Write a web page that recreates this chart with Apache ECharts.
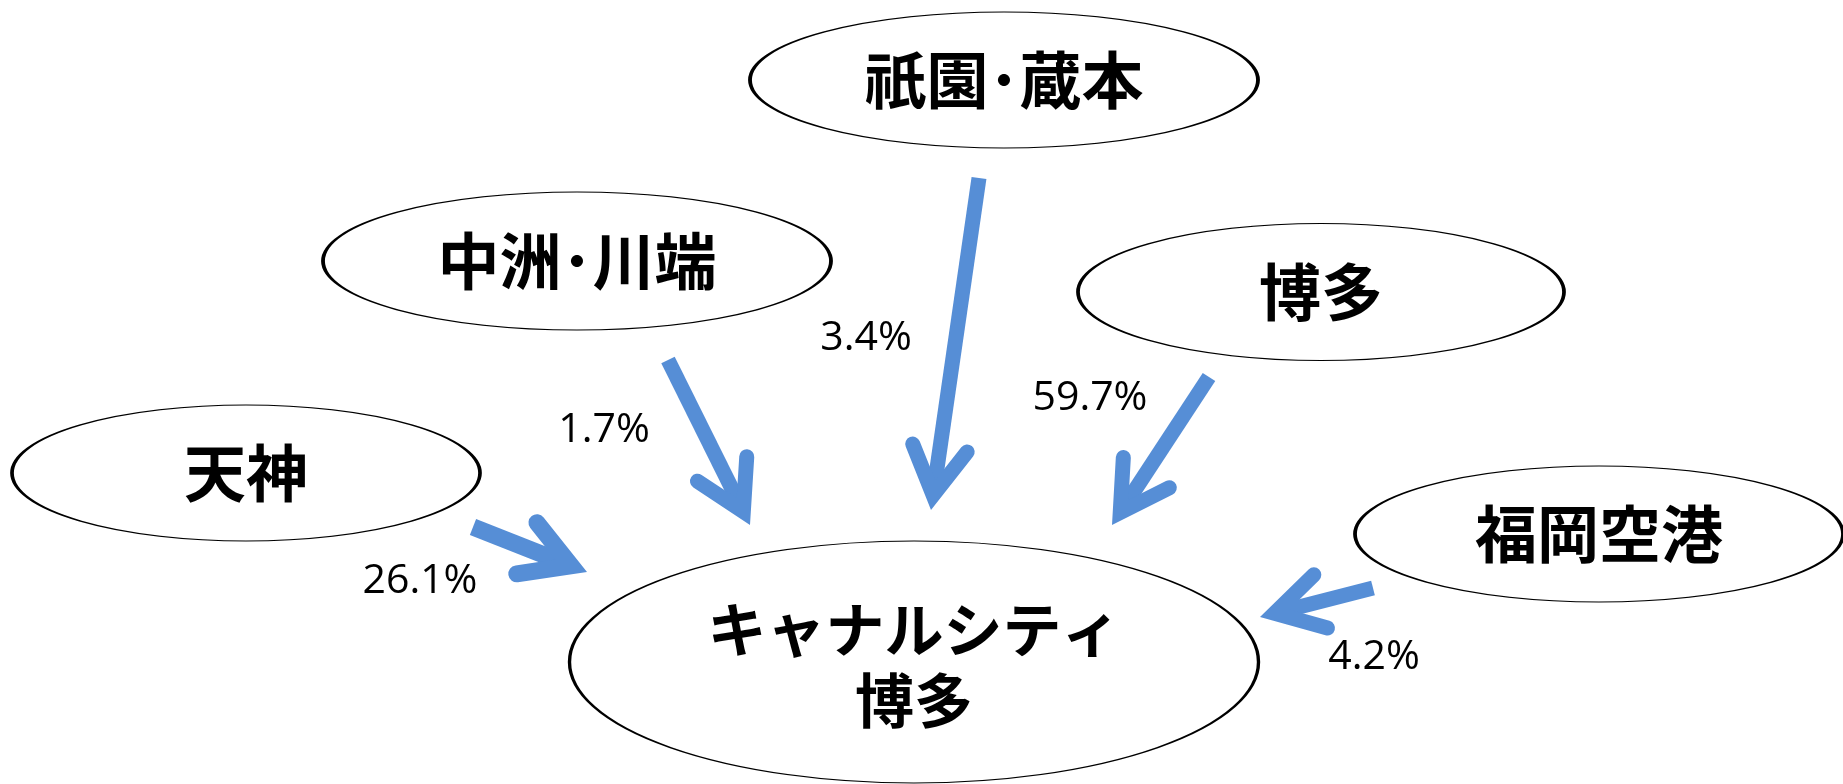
<!DOCTYPE html>
<html>
<head>
<meta charset="utf-8">
<script src="https://cdn.jsdelivr.net/npm/echarts@6/dist/echarts.min.js"></script>
<style>
html,body{margin:0;padding:0;background:#fff;}
#chart{width:1843px;height:784px;}
</style>
</head>
<body>
<div id="chart"></div>
<script>
// ---- data ----
const nodeNames = ['天神', '中洲･川端', '祇園･蔵本', '博多', '福岡空港', 'キャナルシティ\n博多'];
const nodeX = [246, 577, 1004, 1321, 1599, 914];
const nodeY = [473, 261, 80, 292, 534, 662];
const flowFrom = ['天神', '中洲･川端', '祇園･蔵本', '博多', '福岡空港'];
const flowShare = [26.1, 1.7, 3.4, 59.7, 4.2];
const arrowStartX = [473, 668, 979, 1209, 1373];
const arrowStartY = [527, 360, 178, 377, 588];
const arrowTipX = [587, 750, 931, 1112, 1260];
const arrowTipY = [572, 525, 510, 525, 617];
const labelX = [420, 604, 866, 1090, 1374];
const labelY = [581, 430, 338, 398, 657];

// ---- styles ----
const NODE_SIZE = [[468, 136], [508, 138], [508, 136], [486, 137], [488, 136], [689, 242]];
const ARROW_COLOR = '#568ed6';
const ARROW_WIDTH = [17, 15, 15, 15, 15];
const HEAD_LEN = 55;
const HEAD_ANGLE = 30 * Math.PI / 180;

const chart = echarts.init(document.getElementById('chart'), null, {renderer: 'canvas'});

const nodeData = nodeNames.map((n, i) => ({
  name: n,
  value: [nodeX[i], nodeY[i]],
  symbolSize: NODE_SIZE[i],
  label: i === 5 ? {fontSize: 59, lineHeight: 71, offset: [0, 3]} : {}
}));

const arrowData = flowFrom.map((f, i) => ({
  name: f,
  value: [arrowStartX[i], arrowStartY[i], arrowTipX[i], arrowTipY[i], flowShare[i]]
}));

const labelData = flowFrom.map((f, i) => ({
  name: f,
  value: [labelX[i], labelY[i], flowShare[i]]
}));

chart.setOption({
  animation: false,
  backgroundColor: '#ffffff',
  grid: {left: 0, right: 0, top: 0, bottom: 0},
  xAxis: {type: 'value', min: 0, max: 1843, show: false},
  yAxis: {type: 'value', min: 0, max: 784, inverse: true, show: false},
  series: [
    {
      type: 'scatter',
      symbol: 'circle',
      data: nodeData,
      itemStyle: {color: '#ffffff', borderColor: '#000000', borderWidth: 2, opacity: 1},
      label: {
        show: true,
        position: 'inside',
        formatter: p => p.name,
        color: '#000000',
        fontFamily: '"Noto Sans CJK JP", sans-serif',
        fontWeight: 'bold',
        fontSize: 62
      },
      emphasis: {disabled: true},
      z: 2
    },
    {
      type: 'custom',
      data: arrowData,
      renderItem: function (params, api) {
        const s = api.coord([api.value(0), api.value(1)]);
        const t = api.coord([api.value(2), api.value(3)]);
        const w = ARROW_WIDTH[params.dataIndex];
        let dx = t[0] - s[0], dy = t[1] - s[1];
        const len = Math.sqrt(dx * dx + dy * dy);
        dx /= len; dy /= len;
        const m = (w / 2) / Math.sin(HEAD_ANGLE);
        const v = [t[0] - dx * m, t[1] - dy * m];
        const bx = -dx, by = -dy;
        const rot = (a) => [bx * Math.cos(a) - by * Math.sin(a), bx * Math.sin(a) + by * Math.cos(a)];
        const r1 = rot(HEAD_ANGLE), r2 = rot(-HEAD_ANGLE);
        const w1 = [v[0] + r1[0] * HEAD_LEN, v[1] + r1[1] * HEAD_LEN];
        const w2 = [v[0] + r2[0] * HEAD_LEN, v[1] + r2[1] * HEAD_LEN];
        return {
          type: 'group',
          children: [
            {
              type: 'line',
              shape: {x1: s[0], y1: s[1], x2: v[0], y2: v[1]},
              style: {stroke: ARROW_COLOR, lineWidth: w, lineCap: 'butt'}
            },
            {
              type: 'polyline',
              shape: {points: [w1, v, w2]},
              style: {stroke: ARROW_COLOR, fill: null, lineWidth: w, lineCap: 'round', lineJoin: 'miter', miterLimit: 10}
            }
          ]
        };
      },
      z: 3
    },
    {
      type: 'scatter',
      data: labelData,
      symbolSize: 1,
      itemStyle: {color: 'rgba(0,0,0,0)', opacity: 1},
      label: {
        show: true,
        position: 'inside',
        formatter: p => p.value[2].toFixed(1) + '%',
        color: '#000000',
        opacity: 1,
        fontFamily: '"Open Sans", sans-serif',
        fontSize: 41
      },
      emphasis: {disabled: true},
      z: 4
    }
  ]
});
</script>
</body>
</html>
